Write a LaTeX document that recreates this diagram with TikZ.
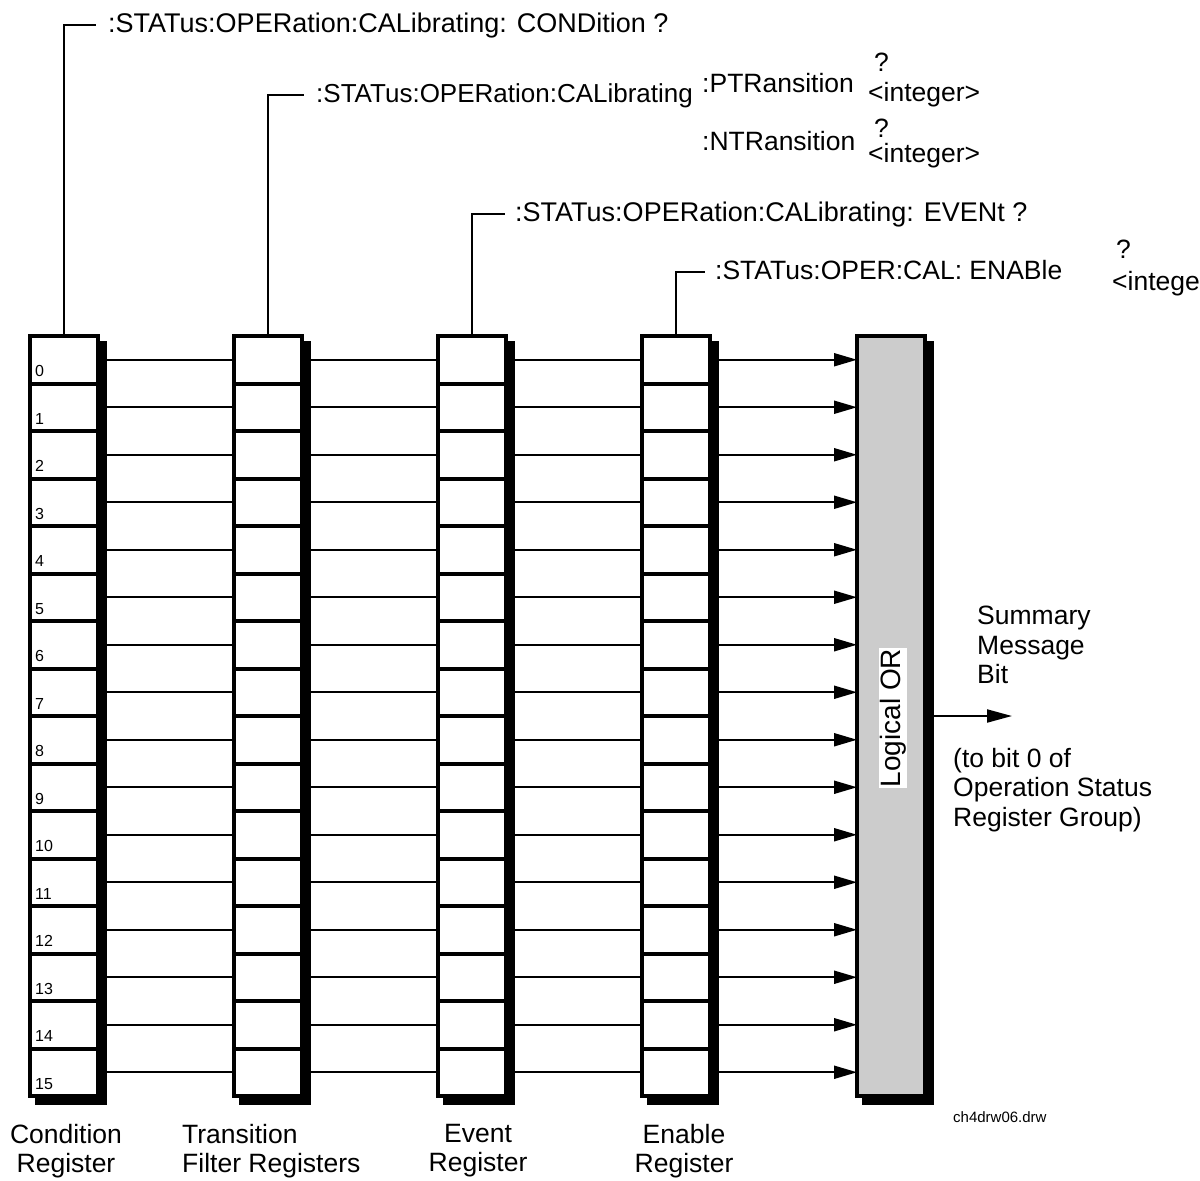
\documentclass[tikz,border=0pt]{standalone}
\usepackage{fontspec}
\setmainfont{Liberation Sans}
\usetikzlibrary{arrows.meta,calc}
\begin{document}
\begin{tikzpicture}[x=1pt,y=-1pt,
  cell/.style={draw=black, line width=4pt, fill=white, minimum width=68pt, minimum height=47.5pt, inner sep=0pt, outer sep=0pt},
  orcell/.style={draw=black, line width=4pt, fill=black!20, minimum width=68pt, minimum height=760pt, inner sep=0pt, outer sep=0pt},
  shadowbox/.style={fill=black},
  wire/.style={line width=2pt, draw=black},
  arrowwire/.style={wire, -{Triangle[length=23pt,width=13pt]}},
  cmd/.style={anchor=base west, inner sep=0pt, font=\fontsize{26.5}{30}\selectfont, text height=19pt, text depth=5pt},
  cmdbig/.style={cmd, font=\fontsize{27}{30}\selectfont},
  cmdsmall/.style={cmd, font=\fontsize{26}{30}\selectfont},
  bitnum/.style={anchor=base west, inner sep=0pt, font=\fontsize{16}{18}\selectfont},
  caption/.style={inner sep=0pt, font=\fontsize{26.5}{29}\selectfont, align=center, anchor=north},
  sidetext/.style={inner sep=0pt, font=\fontsize{26.5}{29.5}\selectfont, align=left, anchor=north west},
]
\useasboundingbox (0,0) rectangle (1200,1181);

% registers
\foreach \n/\x in {cond/28,trans/232,evt/436,enab/640}{
  \fill[shadowbox] (\x+7,341) rectangle (\x+79,1105);
  \foreach \k in {0,...,15}{
    \node[cell] (\n-\k) at (\x+36, 359.75+47.5*\k) {};
  }
}

% logical OR box
\fill[shadowbox] (862,341) rectangle (934,1105);
\node[orcell] (orbox) at (891,716) {};
\node[rotate=90, fill=white, inner sep=1pt, font=\fontsize{28}{30}\selectfont] (orlab) at (893,718) {Logical OR};

% bit numbers
\foreach \k in {0,...,15}{
  \node[bitnum] (num-\k) at (35, 376.5+47.5*\k) {\k};
}

% wires between registers
\foreach \k in {0,...,15}{
  \draw[wire] (cond-\k.east) -- (trans-\k.west);
  \draw[wire] (trans-\k.east) -- (evt-\k.west);
  \draw[wire] (evt-\k.east) -- (enab-\k.west);
  \draw[arrowwire] (enab-\k.east) -- (enab-\k.east -| orbox.west);
}

% output arrow
\coordinate (outend) at (1012,716);
\draw[wire, -{Triangle[length=25pt,width=13pt]}] (orbox.east) -- (outend);

% command labels
\node[cmdbig] (l1) at (108,32) {:STATus:OPERation:CALibrating: CONDition ?};
\node[cmdsmall] (l2) at (316,102) {:STATus:OPERation:CALibrating};
\node[cmd] (pt) at (702,92) {:PTRansition};
\node[cmd] (ptq) at (874,71) {?};
\node[cmd] (pti) at (868,101) {<integer>};
\node[cmd] (nt) at (702,150) {:NTRansition};
\node[cmd] (ntq) at (874,137) {?};
\node[cmd] (nti) at (868,162) {<integer>};
\node[cmdbig] (l3) at (515,221) {:STATus:OPERation:CALibrating: EVENt ?};
\node[cmd] (l4) at (715,279) {:STATus:OPER:CAL: ENABle};
\node[cmd] (enq) at (1116,258) {?};
\node[cmd] (eni) at (1112,290) {<intege};

% command connectors
\draw[wire] (cond-0.north) |- ([xshift=-12pt]l1.west);
\draw[wire] (trans-0.north) |- ([xshift=-12pt]l2.west);
\draw[wire] (evt-0.north) |- ([xshift=-10pt]l3.west);
\draw[wire] (enab-0.north) |- ([xshift=-10pt]l4.west);

% side texts
\node[sidetext] (summary) at (977,606) {Summary\\Message\\Bit};
\node[sidetext] (tobit) at (953,748) {(to bit 0 of\\Operation Status\\Register Group)};

% captions
\node[caption] (capcond) at (66,1124) {Condition\\Register};
\node[caption, align=left, anchor=north west] (captrans) at (182,1124) {Transition\\Filter Registers};
\node[caption] (capevt) at (478,1124) {Event\\Register};
\node[caption] (capenab) at (684,1124) {Enable\\Register};
\node[anchor=base west, inner sep=0pt, font=\fontsize{15}{17}\selectfont] (fname) at (953,1122) {ch4drw06.drw};
\end{tikzpicture}
\end{document}
